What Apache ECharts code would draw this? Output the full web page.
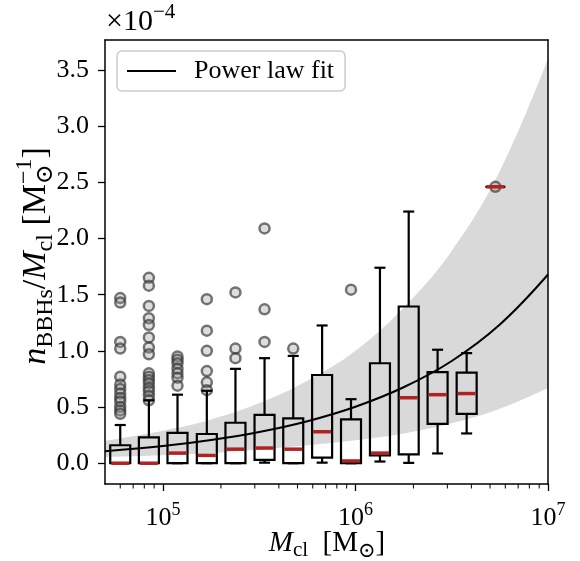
<!DOCTYPE html>
<html><head><meta charset="utf-8">
<script src="https://cdn.jsdelivr.net/npm/echarts@6/dist/echarts.min.js"></script>
<style>html,body{margin:0;padding:0;background:#fff}#c{width:580px;height:561px}</style>
</head><body><div id="c"></div>
<script>
// ---- data (values in units of 1e-4 per Msun) ----
const binMass     = [6.0e4, 8.45e4, 1.19e5, 1.69e5, 2.38e5, 3.37e5, 4.75e5, 6.71e5, 9.48e5, 1.34e6, 1.89e6, 2.67e6, 3.78e6, 5.33e6];
const whiskerLow  = [0.0, 0.0, 0.0, 0.0, 0.0, 0.005, 0.0, 0.005, 0.0, 0.015, 0.003, 0.087, 0.265, 2.46];
const q1          = [0.0, 0.0, 0.0, 0.0, 0.0, 0.03, 0.0, 0.05, 0.0, 0.07, 0.078, 0.35, 0.44, 2.46];
const median      = [0.0, 0.0, 0.09, 0.07, 0.125, 0.135, 0.125, 0.28, 0.02, 0.09, 0.583, 0.61, 0.62, 2.46];
const q3          = [0.16, 0.23, 0.27, 0.26, 0.36, 0.43, 0.40, 0.785, 0.39, 0.89, 1.395, 0.81, 0.806, 2.46];
const whiskerHigh = [0.34, 0.56, 0.61, 0.645, 0.84, 0.935, 0.955, 1.226, 0.57, 1.74, 2.24, 1.01, 0.98, 2.46];
const outliers = [
  [1.47, 1.43, 1.08, 1.02, 0.77, 0.70, 0.66, 0.62, 0.58, 0.55, 0.50, 0.47, 0.44],
  [1.65, 1.58, 1.40, 1.29, 1.23, 1.12, 1.03, 0.97, 0.80, 0.77, 0.74, 0.71, 0.67, 0.64, 0.60, 0.56],
  [0.95, 0.92, 0.89, 0.84, 0.80, 0.76, 0.69],
  [1.46, 1.18, 1.00, 0.82, 0.72, 0.65],
  [1.52, 1.02, 0.935],
  [2.09, 1.37, 1.08],
  [1.02],
  [],
  [1.545],
  [], [], [], [],
  [2.46]
];
const fitMass   = [5e4, 1e5, 1.778e5, 3.162e5, 5.623e5, 1e6, 1.778e6, 3.162e6, 5.623e6, 1e7];
const fitValue  = [0.107, 0.153, 0.207, 0.278, 0.374, 0.503, 0.676, 0.91, 1.235, 1.68];
const bandUpper = [0.20, 0.29, 0.39, 0.535, 0.735, 1.0, 1.385, 1.89, 2.60, 3.60];
const bandLower = [0.055, 0.07, 0.09, 0.122, 0.16, 0.205, 0.265, 0.355, 0.485, 0.67];
const yTicks = [0, 0.5, 1.0, 1.5, 2.0, 2.5, 3.0, 3.5];
const xMajorTicks = [1e5, 1e6, 1e7];
const xMinorTicks = [6e4, 7e4, 8e4, 9e4, 2e5, 3e5, 4e5, 5e5, 6e5, 7e5, 8e5, 9e5, 2e6, 3e6, 4e6, 5e6, 6e6, 7e6, 8e6, 9e6];

// ---- helpers ----
const FAM = '"Liberation Serif", "DejaVu Serif", "DejaVu Sans", serif';
const mctx = document.createElement('canvas').getContext('2d');
function fontStr(p){ return (p.it ? 'italic ' : '') + p.s + 'px ' + FAM; }
function mathGroup(pieces, gx, gy, rotation, anchor){
  let cursor = 0, prevStart = 0; const placed = [];
  pieces.forEach(p => {
    mctx.font = fontStr(p);
    const w = mctx.measureText(p.t).width;
    const start = p.stack ? prevStart : cursor;
    placed.push({p, start});
    if (p.stack) cursor = Math.max(cursor, start + w);
    else { prevStart = start; cursor = start + w; }
  });
  const off = anchor === 'left' ? 0 : -cursor / 2;
  const children = placed.map(({p, start}) => ({
    type: 'text', x: start + off, y: (p.dy || 0) - 0.3 * p.s,
    style: {text: p.t, font: fontStr(p), fill: '#000', align: 'left', verticalAlign: 'middle'}
  }));
  return {type: 'group', x: gx, y: gy, rotation: rotation || 0, children, silent: true};
}

const chart = echarts.init(document.getElementById('c'), null, {renderer: 'canvas'});
const boxData = binMass.map((m, i) => [m, whiskerLow[i], q1[i], median[i], q3[i], whiskerHigh[i]]);
const outlierData = [];
outliers.forEach((arr, i) => arr.forEach(v => outlierData.push([binMass[i], v])));

const YMIN = -0.185, YMAX = 3.767;
const TF = 26;  // tick font size

chart.setOption({
  animation: false,
  backgroundColor: '#fff',
  grid: {left: 105, right: 32, top: 40, bottom: 77, show: false},
  legend: {
    data: [{name: 'Power law fit', icon: 'rect'}],
    left: 117, top: 51, orient: 'vertical',
    itemWidth: 49, itemHeight: 2,
    padding: [7, 11, 7, 10],
    borderColor: '#cccccc', borderWidth: 1.5, borderRadius: 5,
    backgroundColor: '#ffffff',
    textStyle: {fontFamily: FAM, fontSize: TF, color: '#000', padding: [0, 0, 0, 13]},
    selectedMode: false
  },
  xAxis: [
    {type: 'log', logBase: 10, min: 5e4, max: 1e7, position: 'bottom', z: 10,
     axisLine: {show: true, onZero: false, lineStyle: {color: '#000', width: 1.5}},
     axisTick: {show: true, customValues: xMajorTicks, length: 7, lineStyle: {color: '#000', width: 1.3}},
     axisLabel: {customValues: xMajorTicks, margin: 17,
       formatter: v => '{b|10}{s|' + Math.round(Math.log10(v)) + '}',
       rich: {b: {fontFamily: FAM, fontSize: TF, color: '#000', lineHeight: 34},
              s: {fontFamily: FAM, fontSize: 18, color: '#000', lineHeight: 18, padding: [0, 0, 16, 0]}}},
     splitLine: {show: false}},
    {type: 'log', logBase: 10, min: 5e4, max: 1e7, position: 'top', z: 10,
     axisLine: {show: true, onZero: false, lineStyle: {color: '#000', width: 1.5}},
     axisTick: {show: false}, axisLabel: {show: false}, splitLine: {show: false}}
  ],
  yAxis: [
    {type: 'value', min: YMIN, max: YMAX, position: 'left', z: 10,
     axisLine: {show: true, onZero: false, lineStyle: {color: '#000', width: 1.5}},
     axisTick: {show: true, customValues: yTicks, length: 7, lineStyle: {color: '#000', width: 1.3}},
     axisLabel: {customValues: yTicks, margin: 16, formatter: v => v.toFixed(1), fontFamily: FAM, fontSize: TF, color: '#000'},
     splitLine: {show: false}},
    {type: 'value', min: YMIN, max: YMAX, position: 'right', z: 10,
     axisLine: {show: true, onZero: false, lineStyle: {color: '#000', width: 1.5}},
     axisTick: {show: false}, axisLabel: {show: false}, splitLine: {show: false}}
  ],
  series: [
    {type: 'line', name: 'bandHigh', smooth: 0.4, symbol: 'none', z: 1,
     lineStyle: {opacity: 0}, areaStyle: {color: '#d9d9d9', opacity: 1, origin: 'start'},
     data: fitMass.map((m, i) => [m, bandUpper[i]]), silent: true},
    {type: 'line', name: 'bandLow', smooth: 0.4, symbol: 'none', z: 2,
     lineStyle: {opacity: 0}, areaStyle: {color: '#ffffff', opacity: 1, origin: 'start'},
     data: fitMass.map((m, i) => [m, bandLower[i]]), silent: true},
    {type: 'custom', name: 'minorTicks', z: 3, clip: false, silent: true,
     encode: {x: 0, y: 1},
     data: xMinorTicks.map(v => [v, YMIN]),
     renderItem: (params, api) => {
       const p = api.coord([api.value(0), api.value(1)]);
       return {type: 'line', shape: {x1: p[0], y1: p[1], x2: p[0], y2: p[1] + 4.5}, style: {stroke: '#000', lineWidth: 1}};
     }},
    {type: 'scatter', name: 'outliers', symbol: 'circle', symbolSize: 10, z: 4,
     itemStyle: {color: 'rgba(150,150,150,0.4)', borderColor: 'rgba(55,55,55,0.85)', borderWidth: 2.5},
     data: outlierData, silent: true},
    {type: 'custom', name: 'boxes', z: 5, clip: false, silent: true,
     encode: {x: 0, y: [1, 2, 3, 4, 5]},
     data: boxData,
     renderItem: (params, api) => {
       const x = api.value(0);
       const pLo = api.coord([x, api.value(1)]);
       const pQ1 = api.coord([x, api.value(2)]);
       const pMed = api.coord([x, api.value(3)]);
       const pQ3 = api.coord([x, api.value(4)]);
       const pHi = api.coord([x, api.value(5)]);
       const cx = pMed[0], hw = 10, cw = 5.5;
       const blk = {stroke: '#000', lineWidth: 2.2, fill: null};
       return {type: 'group', children: [
         {type: 'line', shape: {x1: cx, y1: pQ1[1], x2: cx, y2: pLo[1]}, style: blk},
         {type: 'line', shape: {x1: cx, y1: pQ3[1], x2: cx, y2: pHi[1]}, style: blk},
         {type: 'line', shape: {x1: cx - cw, y1: pLo[1], x2: cx + cw, y2: pLo[1]}, style: blk},
         {type: 'line', shape: {x1: cx - cw, y1: pHi[1], x2: cx + cw, y2: pHi[1]}, style: blk},
         {type: 'rect', shape: {x: cx - hw, y: pQ3[1], width: 2 * hw, height: pQ1[1] - pQ3[1]}, style: {stroke: '#000', lineWidth: 2.2, fill: 'rgba(0,0,0,0)'}},
         {type: 'line', shape: {x1: cx - hw + 1, y1: pMed[1], x2: cx + hw - 1, y2: pMed[1]}, style: {stroke: '#b22222', lineWidth: 3.5}}
       ]};
     }},
    {type: 'line', name: 'Power law fit', smooth: 0.4, symbol: 'none', z: 6,
     color: '#000', itemStyle: {color: '#000'},
     lineStyle: {color: '#000', width: 2},
     data: fitMass.map((m, i) => [m, fitValue[i]])}
  ],
  graphic: [
    mathGroup([{t: '×10', s: 30}, {t: '−4', s: 21, dy: -12}], 106, 31, 0, 'left'),
    mathGroup([{t: 'M', s: 29, it: true}, {t: 'cl', s: 21, dy: 5}, {t: '  [M', s: 29}, {t: '⊙', s: 21, dy: 6}, {t: ']', s: 29}], 327, 552),
    mathGroup([{t: 'n', s: 34, it: true}, {t: 'BBHs', s: 24, dy: 7}, {t: '/', s: 34}, {t: 'M', s: 34, it: true}, {t: 'cl', s: 24, dy: 7},
               {t: ' [M', s: 34}, {t: '⊙', s: 24, dy: 7}, {t: '−1', s: 24, dy: -14, stack: true}, {t: ']', s: 34}], 46, 256, Math.PI / 2)
  ]
});
</script></body></html>
